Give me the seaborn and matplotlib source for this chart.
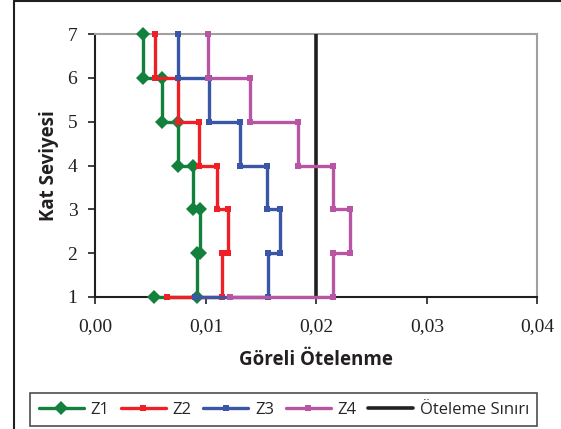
import numpy as np
import pandas as pd
import matplotlib
matplotlib.use("Agg")
import matplotlib.pyplot as plt
from matplotlib.lines import Line2D
import seaborn as sns

# ---- data ----
floors = [1, 2, 3, 4, 5, 6, 7]
series_names = ["Z1", "Z2", "Z3", "Z4"]
# base value at floor 1, then storey drift ratios (storey i spans floor i..i+1)
z1_base = 0.0053
z1_drift = [0.0092, 0.0095, 0.0088, 0.0075, 0.0060, 0.0043]
z2_base = 0.0065
z2_drift = [0.0115, 0.0120, 0.0110, 0.0094, 0.0075, 0.0054]
z3_base = 0.0090
z3_drift = [0.0156, 0.0167, 0.0155, 0.0131, 0.0103, 0.0075]
z4_base = 0.0122
z4_drift = [0.0215, 0.0230, 0.0215, 0.0183, 0.0140, 0.0102]
limit_value = 0.02
limit_name = "Öteleme Sınırı"
x_ticks = [0.00, 0.01, 0.02, 0.03, 0.04]
x_tick_labels = ["0,00", "0,01", "0,02", "0,03", "0,04"]
x_label = "Göreli Ötelenme"
y_label = "Kat Seviyesi"

bases = [z1_base, z2_base, z3_base, z4_base]
drifts = [z1_drift, z2_drift, z3_drift, z4_drift]
colors = ["#13803c", "#ee2026", "#3a56a6", "#b956a4"]
markers = ["D", "s", "s", "s"]
msizes = [7, 5, 5, 5]


def step_path(base, drift):
    xs, ys = [base], [floors[0]]
    for i, d in enumerate(drift):
        xs += [d, d]
        ys += [floors[i], floors[i + 1]]
    return xs, ys


sns.set_theme(style="white")
plt.rcParams["font.family"] = ["DejaVu Sans"]

fig = plt.figure(figsize=(5.61, 4.29), dpi=100)
ax = fig.add_axes([0.170, 0.3077, 0.788, 0.613])

for name, b, d, c, m, ms in zip(series_names, bases, drifts, colors, markers, msizes):
    xs, ys = step_path(b, d)
    df = pd.DataFrame({"x": xs, "y": ys})
    sns.lineplot(data=df, x="x", y="y", sort=False, estimator=None, ax=ax,
                 color=c, lw=2.4, marker=m, markersize=ms, markeredgewidth=0,
                 label=name, clip_on=False, zorder=5)

lim_df = pd.DataFrame({"x": [limit_value, limit_value], "y": [floors[0], floors[-1]]})
sns.lineplot(data=lim_df, x="x", y="y", sort=False, estimator=None, ax=ax,
             color="#231f20", lw=2.6, label=limit_name, zorder=4)

ax.set_xlim(x_ticks[0], x_ticks[-1])
ax.set_ylim(floors[0], floors[-1])
ax.set_xticks(x_ticks)
ax.set_xticklabels(x_tick_labels, family="Liberation Serif", fontsize=14, color="#231f20")
ax.set_yticks(floors)
ax.set_yticklabels([str(f) for f in floors], family="Liberation Serif", fontsize=14, color="#231f20")
ax.tick_params(axis="both", direction="out", length=5, width=1.2, color="#231f20",
               bottom=True, left=True)
ax.tick_params(axis="x", pad=10)
ax.tick_params(axis="y", pad=8)

for s in ["left", "bottom"]:
    ax.spines[s].set_color("#231f20")
    ax.spines[s].set_linewidth(1.5)
for s in ["top", "right"]:
    ax.spines[s].set_color("#a0a0a0")
    ax.spines[s].set_linewidth(1.5)
ax.grid(False)

ax.set_xlabel(x_label, family="Open Sans", fontweight="bold", fontsize=13.5,
              color="#231f20", labelpad=11)
ax.set_ylabel(y_label, family="Open Sans", fontweight="bold", fontsize=13.5,
              color="#231f20", labelpad=6)

if ax.legend_:
    ax.legend_.remove()
handles, labels = ax.get_legend_handles_labels()
leg = fig.legend(handles, labels, loc="center", bbox_to_anchor=(0.506, 0.045),
                 bbox_transform=fig.transFigure, ncol=5, frameon=True, fancybox=False,
                 edgecolor="#231f20", handlelength=2.7, handletextpad=0.4,
                 columnspacing=0.7, borderpad=0.5,
                 prop={"family": "Open Sans", "size": 12})
leg.get_frame().set_linewidth(1.2)

# outer chart frame (left and top visible)
fig.add_artist(Line2D([13.5 / 561, 13.5 / 561], [0, 1 - 1 / 429], color="#231f20", lw=1.5,
                      transform=fig.transFigure))
fig.add_artist(Line2D([13.5 / 561, 1], [1 - 1 / 429, 1 - 1 / 429], color="#231f20", lw=1.5,
                      transform=fig.transFigure))

fig.savefig("out.png", dpi=100)
